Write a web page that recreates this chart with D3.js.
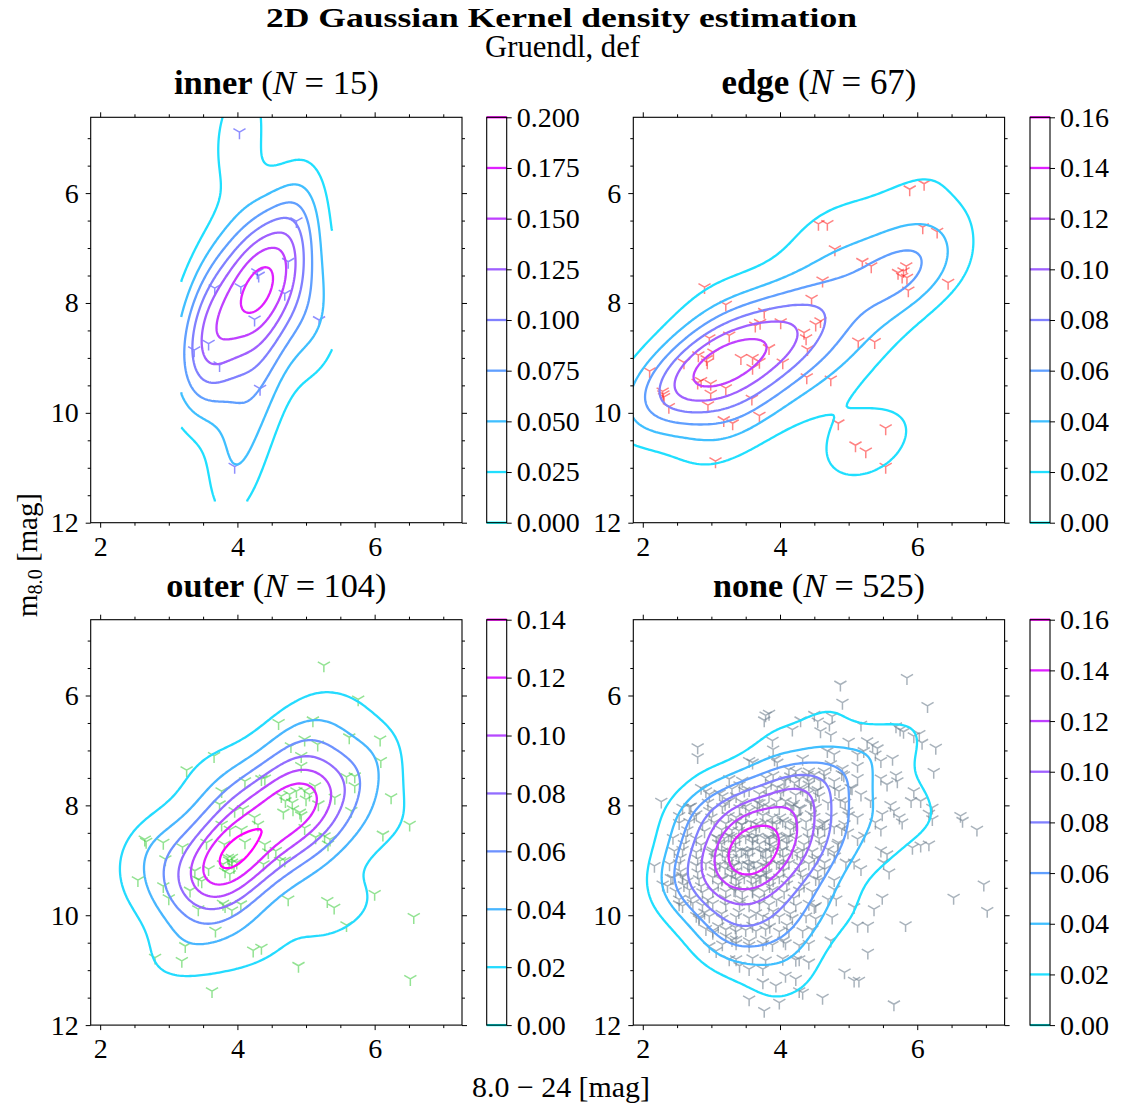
<!DOCTYPE html>
<html><head><meta charset="utf-8">
<script src="https://cdn.jsdelivr.net/npm/d3@7"></script>
<style>body{margin:0;background:#fff}svg{display:block}</style>
</head><body><svg id="c" width="1123" height="1110"></svg>
<script>
// ---------------- data ----------------
const figTitle = "2D Gaussian Kernel density estimation";
const figSubtitle = "Gruendl, def";
const xLabelText = "8.0 \u2212 24 [mag]";
const xMajorTicks = [2, 4, 6];
const xMinorTicks = [2.5, 3, 3.5, 4.5, 5, 5.5, 6.5, 7];
const yMajorTicks = [6, 8, 10, 12];
const yMinorTicks = [5, 5.5, 6.5, 7, 7.5, 8.5, 9, 9.5, 10.5, 11, 11.5];

const innerLevels = [0, 0.025, 0.05, 0.075, 0.1, 0.125, 0.15, 0.175, 0.2];
const innerLabels = ["0.000","0.025","0.050","0.075","0.100","0.125","0.150","0.175","0.200"];
const edgeLevels = [0, 0.02, 0.04, 0.06, 0.08, 0.1, 0.12, 0.14, 0.16];
const edgeLabels = ["0.00","0.02","0.04","0.06","0.08","0.10","0.12","0.14","0.16"];
const outerLevels = [0, 0.02, 0.04, 0.06, 0.08, 0.1, 0.12, 0.14];
const outerLabels = ["0.00","0.02","0.04","0.06","0.08","0.10","0.12","0.14"];
const noneLevels = [0, 0.02, 0.04, 0.06, 0.08, 0.1, 0.12, 0.14, 0.16];
const noneLabels = ["0.00","0.02","0.04","0.06","0.08","0.10","0.12","0.14","0.16"];

const innerPts = [[4.03,4.89],[4.86,6.51],[4.74,7.25],[4.29,7.44],[4.31,7.50],[4.05,7.71],[3.67,7.73],[4.69,7.83],
 [4.25,8.30],[5.19,8.31],[3.58,8.74],[3.37,8.86],[3.74,9.13],[4.33,9.56],[3.96,10.98]];

const edgePts = [[5.89,5.93],[6.10,5.83],[4.56,6.56],[4.69,6.56],[6.08,6.62],[6.29,6.70],[4.80,7.02],[5.20,7.25],
 [5.33,7.33],[5.84,7.33],[5.72,7.45],[5.85,7.54],[5.87,7.77],[6.45,7.63],[4.62,7.59],[2.90,7.71],[4.46,7.92],
 [3.21,8.03],[3.77,8.16],[3.71,8.36],[3.64,8.41],[4.01,8.35],[4.52,8.39],[4.59,8.33],[4.35,8.54],[4.38,8.64],
 [4.40,8.84],[3.26,8.59],[2.97,8.64],[3.03,8.90],[3.84,8.82],[3.43,9.00],[3.60,9.00],[3.70,9.07],[3.60,9.18],
 [4.04,9.08],[5.14,8.70],[5.38,8.71],[2.81,8.95],[2.94,9.08],[2.60,9.08],[2.10,9.24],[4.39,9.35],[4.74,9.39],
 [2.80,9.45],[2.99,9.47],[3.21,9.55],[2.99,9.65],[2.29,9.61],[2.31,9.71],[2.38,9.89],[2.95,9.86],[3.59,9.74],
 [3.18,10.13],[3.31,10.19],[3.70,10.05],[4.85,10.19],[5.54,10.28],[5.10,10.59],[5.25,10.70],[5.54,10.98],
 [3.06,10.88],[2.85,9.42],[2.30,9.66],[2.93,9.02],[5.80,7.42],[5.78,7.52]];

const outerPts = [[5.26,5.45],[5.76,6.07],[4.60,6.50],[5.10,6.45],[3.66,7.10],[3.26,7.36],[4.78,6.92],[4.98,6.80],
 [5.17,6.89],[5.63,6.76],[6.08,6.80],[6.09,7.19],[4.93,7.10],[4.93,7.28],[4.11,7.56],[4.35,7.52],[4.40,7.51],
 [5.59,7.48],[5.71,7.47],[5.71,7.65],[6.24,7.85],[3.77,7.74],[3.74,7.98],[4.64,7.83],[4.76,7.80],[4.86,7.74],
 [4.98,7.73],[5.13,7.65],[5.42,7.86],[5.18,7.98],[4.67,8.13],[4.81,8.07],[4.91,8.13],[4.93,8.18],[4.25,8.22],
 [5.00,7.89],[5.66,8.10],[3.96,8.10],[4.08,8.07],[3.77,8.35],[3.89,8.44],[4.06,8.44],[4.11,8.67],[4.98,8.41],
 [5.14,8.58],[5.27,8.56],[5.35,8.62],[5.32,8.71],[6.12,8.53],[6.51,8.35],[2.65,8.62],[2.67,8.66],[2.92,8.68],
 [2.95,8.98],[3.20,8.76],[3.55,8.68],[3.58,9.16],[3.81,8.71],[3.86,8.95],[3.92,9.04],[3.99,9.04],[3.79,9.07],
 [3.89,9.25],[4.40,8.71],[4.56,8.83],[4.62,9.01],[4.69,9.00],[4.38,9.07],[3.38,9.19],[3.48,9.38],[3.43,9.35],
 [3.31,9.55],[2.55,9.36],[2.92,9.47],[3.00,9.69],[3.43,9.89],[3.79,9.79],[3.82,9.83],[3.92,9.91],[4.05,9.80],
 [4.74,9.71],[5.31,9.74],[5.41,9.86],[6.00,9.61],[6.57,10.03],[3.68,10.28],[5.59,10.18],[3.24,10.56],[4.23,10.64],
 [4.35,10.59],[2.80,10.77],[3.19,10.83],[4.89,10.92],[6.52,11.16],[3.63,11.38],[5.05,7.80],[3.95,9.12],[4.80,7.95],
 [4.70,7.92],[3.82,9.20],[4.30,8.35],[3.88,9.00],[4.45,8.85],[3.92,8.95]];

const noneOuterPts = [[4.88,5.80],[5.85,5.68],[4.91,6.13],[6.15,6.19],[3.79,6.36],[3.84,6.33],[3.77,6.45],[4.30,6.45],
 [4.50,6.35],[4.18,6.62],[2.80,6.94],[2.80,7.12],[3.89,6.82],[3.90,6.98],[3.55,7.19],[3.60,7.22],[3.92,7.16],[3.96,7.22],
 [4.33,7.15],[4.13,7.35],[4.23,7.38],[4.42,7.38],[4.50,7.44],[2.27,7.93],[2.85,7.68],[2.92,7.74],[2.68,8.03],[3.41,7.63],
 [3.48,7.73],[3.16,7.83],[3.26,7.92],[3.87,7.59],[3.96,7.67],[4.08,7.53],[4.21,7.59],[4.33,7.71],[4.42,7.62],[4.52,7.74],
 [3.67,7.95],[3.75,8.01],[3.55,8.10],[4.08,7.92],[4.18,8.01],[4.28,8.05],[4.45,7.97],[2.53,8.19],[2.78,8.16],[2.97,8.10],
 [3.36,8.22],[3.89,8.22],[4.04,8.28],[4.23,8.22],[4.45,8.16],
 [4.55,6.47],[4.72,6.53],[4.76,6.38],[5.18,6.53],[5.69,6.56],[5.75,6.62],[5.80,6.66],[4.59,6.65],[4.74,6.72],[5.00,6.84],
 [5.27,6.83],[5.35,6.90],[5.42,6.96],[5.95,6.74],[6.03,6.70],[6.07,6.86],[6.27,6.95],[4.69,7.01],[4.79,7.07],[5.13,7.07],
 [5.22,7.01],[5.39,7.07],[5.64,7.15],[4.91,7.33],[5.13,7.28],[5.47,7.19],[6.24,7.39],[5.69,7.45],[4.59,7.56],[4.79,7.56],
 [4.93,7.45],[5.03,7.68],[5.13,7.50],[5.47,7.51],[5.56,7.62],[5.71,7.56],[5.95,7.74],[6.05,7.92],[5.61,7.99],[5.49,8.16],
 [5.18,7.80],[5.32,7.92],[6.22,8.04],[6.17,8.15],[6.63,8.19],[5.66,8.10],[5.74,8.22],[5.91,7.92],[4.86,7.74],[4.88,7.92],
 [4.64,7.38],[4.74,7.25],[4.98,8.10],[5.13,8.22],
 [5.78,8.31],[6.22,8.25],[6.66,8.28],[6.87,8.44],[6.05,8.73],[6.17,8.71],[5.93,8.77],[5.47,8.82],[5.56,8.89],[5.51,9.04],
 [5.59,9.22],[5.18,9.16],[5.08,9.04],[4.79,8.86],[6.97,9.44],[6.53,9.68],[7.02,9.92],[5.49,9.68],[5.37,9.89],[5.08,9.85],
 [4.82,9.71],[4.76,10.04],[5.13,10.19],[5.28,10.19],[5.83,10.18],[4.74,10.46],[5.28,10.68],[4.94,11.04],[5.08,11.19],
 [5.15,11.19],[4.62,11.50],[5.66,11.62],[4.50,9.85],[4.57,9.36],[4.65,9.04],[4.96,9.04],[4.79,9.36],[4.55,8.44],[5.39,8.31],
 [5.47,8.44],[4.55,8.40],[4.65,8.31],[4.79,8.40],[4.94,8.34],[4.99,8.49],[5.13,8.61],[5.23,8.55],[4.84,8.71],[4.70,8.80],
 [4.50,8.98],[4.65,9.16],[4.52,9.83],[4.70,9.71],[4.79,9.53],
 [2.17,9.10],[2.41,9.32],[2.29,9.44],[2.36,9.47],[2.58,9.28],[2.65,9.38],[2.53,9.71],[2.58,9.83],[2.78,10.01],[2.82,10.07],
 [2.97,10.56],[3.07,10.65],[3.26,10.80],[3.41,10.92],[3.55,11.53],[3.77,11.74],[3.99,11.59],[4.28,11.38],[4.33,11.41],
 [3.75,11.22],[3.94,11.28],[4.08,11.10],[4.23,11.16],[4.28,10.80],[4.42,10.86],[3.55,10.98],[3.75,10.98],[3.21,10.38],
 [3.36,10.44],[2.92,10.25],[3.02,10.32]];

const noneCorePts = [[3.26,7.52],[3.45,7.55],[3.79,7.50],[4.06,7.56],[4.28,7.52],[4.42,7.55],
 [2.97,7.80],[3.12,7.78],[3.36,7.83],[3.70,7.79],[3.84,7.82],[4.01,7.78],[4.23,7.81],[4.40,7.79],[4.57,7.83],
 [2.58,8.04],[2.70,8.02],[3.02,8.06],[3.16,8.03],[3.41,8.05],[3.50,8.02],[3.67,8.06],[3.84,8.03],[3.99,8.05],[4.16,8.02],[4.30,8.06],[4.52,8.04],
 [2.53,8.32],[2.68,8.30],[2.87,8.34],[3.04,8.31],[3.21,8.33],[3.36,8.30],[3.44,8.35],[3.58,8.31],[3.65,8.34],[3.79,8.30],[3.89,8.33],[4.08,8.31],[4.23,8.34],[4.38,8.30],[4.62,8.33],
 [2.44,8.59],[2.63,8.57],[2.78,8.61],[3.07,8.58],[3.19,8.60],[3.29,8.57],[3.41,8.61],[3.50,8.58],[3.60,8.60],[3.67,8.57],[3.79,8.61],[3.84,8.58],[3.99,8.60],[4.13,8.57],[4.23,8.61],[4.42,8.58],[4.57,8.60],
 [2.46,8.83],[2.58,8.81],[2.78,8.85],[3.02,8.82],[3.16,8.84],[3.24,8.81],[3.36,8.85],[3.44,8.82],[3.53,8.84],[3.60,8.81],[3.72,8.85],[3.79,8.82],[3.87,8.84],[4.04,8.81],[4.18,8.85],[4.33,8.82],[4.47,8.84],
 [2.39,9.07],[2.53,9.05],[2.78,9.09],[2.92,9.06],[3.12,9.08],[3.24,9.05],[3.33,9.09],[3.44,9.06],[3.53,9.08],[3.62,9.05],[3.75,9.09],[3.84,9.06],[3.99,9.08],[4.13,9.05],[4.28,9.09],[4.42,9.06],
 [2.44,9.32],[2.58,9.30],[2.82,9.34],[3.02,9.31],[3.16,9.33],[3.29,9.30],[3.36,9.34],[3.48,9.31],[3.58,9.33],[3.72,9.30],[3.84,9.34],[3.99,9.31],[4.13,9.33],[4.33,9.30],[4.52,9.34],
 [2.48,9.56],[2.68,9.54],[2.87,9.58],[3.02,9.55],[3.21,9.57],[3.33,9.54],[3.45,9.58],[3.60,9.55],[3.77,9.57],[3.89,9.54],[4.06,9.58],[4.28,9.55],[4.47,9.57],
 [2.53,9.80],[2.73,9.78],[2.87,9.82],[3.02,9.79],[3.21,9.81],[3.41,9.78],[3.55,9.82],[3.70,9.79],[3.84,9.81],[4.06,9.78],[4.23,9.82],[4.42,9.79],
 [2.82,10.04],[2.97,10.02],[3.16,10.06],[3.36,10.03],[3.55,10.05],[3.75,10.02],[3.84,10.06],[3.99,10.03],[4.18,10.05],[4.38,10.02],[4.52,10.06],
 [3.02,10.28],[3.21,10.26],[3.36,10.30],[3.50,10.27],[3.65,10.29],[3.79,10.26],[3.99,10.30],[4.13,10.27],[4.33,10.29],[4.47,10.26],
 [3.16,10.53],[3.36,10.51],[3.55,10.55],[3.75,10.52],[3.89,10.54],[4.08,10.51],[4.28,10.55],[4.42,10.52],
 [3.36,10.80],[3.60,10.78],[3.79,10.82],[4.04,10.79],[4.23,10.81]];

const noneMidPts = [[3.90,7.45],[4.15,7.47],[4.40,7.44],[4.65,7.46],[4.90,7.43],
 [3.30,7.70],[3.55,7.72],[3.80,7.69],[4.05,7.71],[4.30,7.68],[4.55,7.72],[4.80,7.70],[5.05,7.69],
 [2.95,7.95],[3.20,7.97],[3.45,7.94],[3.70,7.96],[3.95,7.93],[4.20,7.97],[4.45,7.94],[4.70,7.96],[4.95,7.95],
 [2.75,8.20],[3.00,8.22],[3.25,8.19],[3.50,8.21],[3.75,8.18],[4.00,8.22],[4.25,8.19],[4.50,8.21],[4.75,8.20],[5.00,8.18],
 [2.65,8.45],[2.90,8.47],[3.15,8.44],[3.40,8.46],[3.65,8.43],[3.90,8.47],[4.15,8.44],[4.40,8.46],[4.65,8.45],[4.90,8.43],
 [2.60,8.70],[2.85,8.72],[3.10,8.69],[3.35,8.71],[3.60,8.68],[3.85,8.72],[4.10,8.69],[4.35,8.71],[4.60,8.70],[4.85,8.68],
 [2.55,8.95],[2.80,8.97],[3.05,8.94],[3.30,8.96],[3.55,8.93],[3.80,8.97],[4.05,8.94],[4.30,8.96],[4.55,8.95],[4.80,8.93],
 [2.55,9.20],[2.80,9.22],[3.05,9.19],[3.30,9.21],[3.55,9.18],[3.80,9.22],[4.05,9.19],[4.30,9.21],[4.55,9.20],
 [2.60,9.45],[2.85,9.47],[3.10,9.44],[3.35,9.46],[3.60,9.43],[3.85,9.47],[4.10,9.44],[4.35,9.46],
 [2.70,9.70],[2.95,9.72],[3.20,9.69],[3.45,9.71],[3.70,9.68],[3.95,9.72],[4.20,9.69],
 [2.90,9.95],[3.15,9.97],[3.40,9.94],[3.65,9.96],[3.90,9.93],[4.15,9.97],
 [3.10,10.20],[3.35,10.22],[3.60,10.19],[3.85,10.21],[4.10,10.18],
 [3.30,10.45],[3.55,10.47],[3.80,10.44],[4.05,10.46]];

const nonePeakPts = [[3.45,8.35],[3.70,8.37],[3.95,8.34],[4.20,8.36],
 [3.10,8.60],[3.35,8.62],[3.60,8.59],[3.85,8.61],[4.10,8.58],
 [3.00,8.85],[3.25,8.87],[3.50,8.84],[3.75,8.86],[4.00,8.83],[4.25,8.87],
 [3.05,9.10],[3.30,9.12],[3.55,9.09],[3.80,9.11],[4.05,9.08],
 [3.15,9.35],[3.40,9.37],[3.65,9.34],[3.90,9.36],[3.35,9.55],[3.60,9.57],
 [3.70,8.70],[3.40,8.95],
 [3.25,8.55],[3.90,8.75],[3.35,9.20],[3.80,9.25],[3.55,8.50],[3.20,8.95],[3.95,8.55],[3.65,9.15],
 [3.15,8.70],[3.20,9.15],[3.95,9.05],[4.00,8.65],[3.70,9.30],[3.30,8.45]];

const nonePts = noneOuterPts.concat(noneCorePts, noneMidPts, nonePeakPts);

const panels = [
  {name: "inner", N: 15, pts: innerPts, levels: innerLevels, labels: innerLabels, mark: "rgba(50,50,255,0.55)", ax: [90.7, 117.3], cb: 486.7, titleW: 205},
  {name: "edge", N: 67, pts: edgePts, levels: edgeLevels, labels: edgeLabels, mark: "rgba(255,30,30,0.55)", ax: [633.3, 117.3], cb: 1030, titleW: 195},
  {name: "outer", N: 104, pts: outerPts, levels: outerLevels, labels: outerLabels, mark: "rgba(40,200,40,0.5)", ax: [90.7, 619.7], cb: 486.7, titleW: 220},
  {name: "none", N: 525, pts: nonePts, levels: noneLevels, labels: noneLabels, mark: "rgba(112,128,144,0.6)", ax: [633.3, 619.7], cb: 1030, titleW: 212}
];

// ---------------- layout ----------------
const AXW = 371.3, AXH = 405.4, CBW = 20;
const FONT = "'Liberation Serif','DejaVu Serif',serif";
const xDomain = [1.862, 7.273], yDomain = [4.62, 12];
const svg = d3.select("#c");
svg.append("rect").attr("width", 1123).attr("height", 1110).attr("fill", "#fff");
const defs = svg.append("defs");

const cool = t => d3.rgb(255 * t, 255 * (1 - t), 255).formatHex();

function kde(pts, nBw) {
  const n = pts.length;
  const mx = d3.mean(pts, p => p[0]), my = d3.mean(pts, p => p[1]);
  let sxx = 0, syy = 0, sxy = 0;
  for (const [x, y] of pts) { sxx += (x - mx) ** 2; syy += (y - my) ** 2; sxy += (x - mx) * (y - my); }
  sxx /= (n - 1); syy /= (n - 1); sxy /= (n - 1);
  const f2 = Math.pow(nBw, -1 / 3);
  const a = sxx * f2, b = sxy * f2, c = syy * f2;
  const det = a * c - b * b;
  const ia = c / det, ib = -b / det, ic = a / det;
  const norm = 1 / (2 * Math.PI * Math.sqrt(det) * n);
  return (x, y) => {
    let s = 0;
    for (let k = 0; k < n; k++) {
      const dx = x - pts[k][0], dy = y - pts[k][1];
      s += Math.exp(-0.5 * (ia * dx * dx + 2 * ib * dx * dy + ic * dy * dy));
    }
    return s * norm;
  };
}

// split contour rings into open lines where they run along the grid border
function contourLines(mp, NX, NY) {
  const out = [];
  const onB = (a, b) => (a[0] === 0 && b[0] === 0) || (a[0] === NX && b[0] === NX) ||
                        (a[1] === 0 && b[1] === 0) || (a[1] === NY && b[1] === NY);
  for (const poly of mp.coordinates) for (const ring of poly) {
    const m = ring.length - 1;
    let bi = -1;
    for (let k = 0; k < m; k++) if (onB(ring[k], ring[k + 1])) { bi = k; break; }
    if (bi < 0) { out.push(ring); continue; }
    let cur = [];
    for (let s = 1; s <= m; s++) {
      const k = (bi + s) % m;
      const a = ring[k], b = ring[k + 1];
      if (onB(a, b)) { if (cur.length > 1) out.push(cur); cur = []; }
      else { if (!cur.length) cur.push(a); cur.push(b); }
    }
    if (cur.length > 1) out.push(cur);
  }
  return out;
}

function fit(sel, target) {
  const w = sel.node().getBBox().width;
  const fs = parseFloat(sel.attr("font-size"));
  sel.attr("font-size", fs * target / w);
}

function styleAxis(g) {
  g.select(".domain").remove();
  g.selectAll(".tick line").attr("stroke", "#000").attr("stroke-width", 1);
  g.selectAll("text").attr("font-family", FONT).attr("font-size", 28).attr("fill", "#000");
}

panels.forEach((p, pi) => {
  const [x0, y0] = p.ax;
  const sx = d3.scaleLinear().domain(xDomain).range([x0, x0 + AXW]);
  const sy = d3.scaleLinear().domain(yDomain).range([y0, y0 + AXH]);
  const g = svg.append("g");

  defs.append("clipPath").attr("id", "ax" + pi).append("rect")
    .attr("x", x0).attr("y", y0).attr("width", AXW).attr("height", AXH);

  // KDE on a grid spanning the data range plus 10 %
  const xs = p.pts.map(d => d[0]), ys = p.pts.map(d => d[1]);
  const [xmin, xmax] = d3.extent(xs), [ymin, ymax] = d3.extent(ys);
  const rx = xmax - xmin, ry = ymax - ymin;
  const gx0 = xmin - 0.1 * rx, gx1 = xmax + 0.1 * rx, gy0 = ymin - 0.1 * ry, gy1 = ymax + 0.1 * ry;
  const NX = 150, NY = 150;
  const dens = kde(p.pts, p.N);
  const vals = new Float64Array(NX * NY);
  for (let j = 0; j < NY; j++) for (let i = 0; i < NX; i++)
    vals[j * NX + i] = dens(gx0 + i * (gx1 - gx0) / (NX - 1), gy0 + j * (gy1 - gy0) / (NY - 1));
  const vmax = d3.max(vals);
  const top = p.levels[p.levels.length - 1];
  const th = p.levels.filter(l => l > 0 && l < vmax);
  const cs = d3.contours().size([NX, NY]).thresholds(th)(vals);
  const line = d3.line()
    .x(c => sx(gx0 + (c[0] - 0.5) * (gx1 - gx0) / (NX - 1)))
    .y(c => sy(gy0 + (c[1] - 0.5) * (gy1 - gy0) / (NY - 1)));

  const plot = g.append("g").attr("clip-path", `url(#ax${pi})`);
  // scatter markers (tri_down)
  const L = 7;
  plot.append("g").selectAll("path").data(p.pts).join("path")
    .attr("transform", d => `translate(${sx(d[0])},${sy(d[1])})`)
    .attr("d", `M0,0L0,${L}M0,0L${-0.866 * L},${-0.5 * L}M0,0L${0.866 * L},${-0.5 * L}`)
    .attr("stroke", p.mark).attr("stroke-width", 1.5).attr("fill", "none");
  // contour lines
  cs.forEach(c => {
    const col = cool(c.value / top);
    plot.append("g").selectAll("path").data(contourLines(c, NX, NY)).join("path")
      .attr("d", line).attr("fill", "none").attr("stroke", col)
      .attr("stroke-width", 2.3).attr("stroke-linejoin", "round").attr("stroke-linecap", "butt");
  });

  // axes ticks (outward on all sides)
  const ax = (gen, tr, vals, size, fmt) => {
    const a = gen.tickValues(vals).tickSize(size).tickSizeOuter(0);
    if (fmt) a.tickFormat(fmt); else a.tickFormat("");
    const gg = g.append("g").attr("transform", tr).call(a);
    styleAxis(gg);
    return gg;
  };
  ax(d3.axisBottom(sx).tickPadding(8), `translate(0,${y0 + AXH})`, xMajorTicks, 5, d3.format("d"));
  ax(d3.axisBottom(sx), `translate(0,${y0 + AXH})`, xMinorTicks, 3);
  ax(d3.axisTop(sx), `translate(0,${y0})`, xMajorTicks, 5);
  ax(d3.axisTop(sx), `translate(0,${y0})`, xMinorTicks, 3);
  ax(d3.axisLeft(sy).tickPadding(7), `translate(${x0},0)`, yMajorTicks, 5, d3.format("d"));
  ax(d3.axisLeft(sy), `translate(${x0},0)`, yMinorTicks, 3);
  ax(d3.axisRight(sy), `translate(${x0 + AXW},0)`, yMajorTicks, 5);
  ax(d3.axisRight(sy), `translate(${x0 + AXW},0)`, yMinorTicks, 3);
  g.append("rect").attr("x", x0).attr("y", y0).attr("width", AXW).attr("height", AXH)
    .attr("fill", "none").attr("stroke", "#000").attr("stroke-width", 1.1);

  // colorbar
  const cy = d3.scaleLinear().domain([0, top]).range([y0 + AXH, y0]);
  const cbg = g.append("g");
  cbg.append("rect").attr("x", p.cb).attr("y", y0).attr("width", CBW).attr("height", AXH).attr("fill", "#fff");
  cbg.selectAll("line.lev").data(p.levels).join("line").attr("class", "lev")
    .attr("x1", p.cb).attr("x2", p.cb + CBW).attr("y1", d => cy(d)).attr("y2", d => cy(d))
    .attr("stroke", d => cool(d / top)).attr("stroke-width", 2.3);
  cbg.append("rect").attr("x", p.cb).attr("y", y0).attr("width", CBW).attr("height", AXH)
    .attr("fill", "none").attr("stroke", "#000").attr("stroke-width", 1.1);
  const cax = g.append("g").attr("transform", `translate(${p.cb + CBW},0)`)
    .call(d3.axisRight(cy).tickValues(p.levels).tickFormat((d, i) => p.labels[i]).tickSize(5).tickPadding(5).tickSizeOuter(0));
  styleAxis(cax);

  // panel title
  const t = svg.append("text").attr("x", x0 + AXW / 2).attr("y", y0 - 23).attr("text-anchor", "middle")
    .attr("font-family", FONT).attr("font-size", 28).attr("fill", "#000");
  t.append("tspan").attr("font-weight", "bold").text(p.name);
  t.append("tspan").text(" (");
  t.append("tspan").attr("font-style", "italic").text("N");
  t.append("tspan").text(" = " + p.N + ")");
  fit(t, p.titleW);
});

// figure titles and labels
svg.append("text").attr("x", 561.5).attr("y", 27).attr("text-anchor", "middle")
  .attr("font-family", FONT).attr("font-weight", "bold").attr("font-size", 28)
  .attr("textLength", 591).attr("lengthAdjust", "spacingAndGlyphs").text(figTitle);
const st = svg.append("text").attr("x", 562.5).attr("y", 57).attr("text-anchor", "middle")
  .attr("font-family", FONT).attr("font-size", 27).text(figSubtitle);
fit(st, 155);
const xl = svg.append("text").attr("x", 561).attr("y", 1097).attr("text-anchor", "middle")
  .attr("font-family", FONT).attr("font-size", 28).text(xLabelText);
fit(xl, 178);
const yl = svg.append("text").attr("transform", "translate(37,555) rotate(-90)").attr("text-anchor", "middle")
  .attr("font-family", FONT).attr("font-size", 28);
yl.append("tspan").text("m");
yl.append("tspan").attr("font-size", "0.7em").attr("dy", 5).text("8.0");
yl.append("tspan").attr("dy", -5).text(" [mag]");
fit(yl, 124);
</script></body></html>
